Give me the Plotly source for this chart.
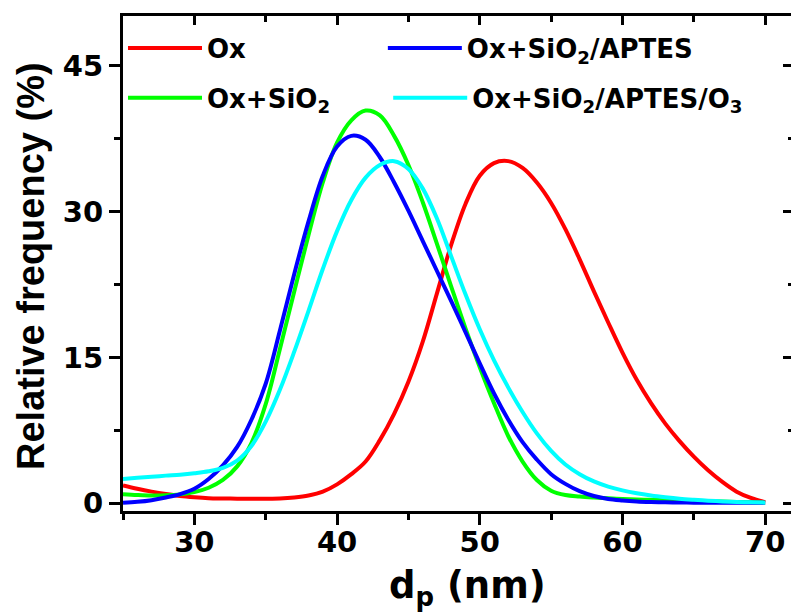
import plotly.graph_objects as go

dp_nm = list(range(25, 71))

ox = [1.85, 1.5, 1.2, 0.95, 0.75, 0.62, 0.53, 0.5, 0.48, 0.48,
      0.48, 0.5, 0.6, 0.8, 1.2, 1.95, 3.0, 4.3, 6.5, 9.2,
      12.5, 16.6, 21.6, 26.6, 30.8, 33.7, 35.0, 35.2, 34.5, 33.0,
      30.9, 28.2, 25.1, 21.8, 18.6, 15.5, 12.7, 10.3, 8.2, 6.4,
      4.8, 3.4, 2.2, 1.2, 0.55, 0.12]

ox_sio2 = [0.93, 0.85, 0.8, 0.82, 0.92, 1.15, 1.6, 2.4, 3.8, 6.2,
           10.2, 15.9, 21.8, 27.6, 33.0, 37.1, 39.4, 40.4, 39.9, 37.8,
           34.8, 31.0, 26.7, 22.3, 18.0, 14.0, 10.3, 6.9, 4.3, 2.4,
           1.3, 0.85, 0.7, 0.6, 0.52, 0.45, 0.4, 0.36, 0.32, 0.28,
           0.25, 0.22, 0.18, 0.14, 0.1, 0.07]

ox_sio2_aptes = [0.06, 0.15, 0.32, 0.6, 0.95, 1.5, 2.5, 3.9, 5.8, 8.6,
                 12.3, 17.8, 23.6, 29.0, 33.7, 36.7, 37.8, 37.4, 35.6, 33.0,
                 30.1, 27.0, 23.9, 20.8, 17.6, 14.4, 11.3, 8.6, 6.3, 4.5,
                 3.0, 2.0, 1.25, 0.75, 0.45, 0.3, 0.2, 0.14, 0.1, 0.08,
                 0.07, 0.06, 0.05, 0.05, 0.05, 0.05]

ox_sio2_aptes_o3 = [2.5, 2.62, 2.73, 2.85, 2.95, 3.1, 3.3, 3.65, 4.4, 5.9,
                    8.4, 11.7, 15.6, 19.8, 24.1, 28.0, 31.2, 33.5, 34.8, 35.2,
                    34.4, 32.4, 29.3, 25.4, 21.5, 17.9, 14.7, 11.9, 9.4, 7.2,
                    5.4, 4.0, 3.0, 2.25, 1.72, 1.33, 1.03, 0.8, 0.62, 0.47,
                    0.36, 0.27, 0.2, 0.14, 0.1, 0.07]

series = [
    ("Ox", ox, "#FF0000", "legend", "x", "y"),
    ("Ox+SiO<sub>2</sub>", ox_sio2, "#00FF00", "legend3", "x", "y"),
    ("Ox+SiO<sub>2</sub>/APTES", ox_sio2_aptes, "#0000FF", "legend2", "x", "y"),
    ("Ox+SiO<sub>2</sub>/APTES/O<sub>3</sub>", ox_sio2_aptes_o3, "#00FFFF", "legend4", "x2", "y2"),
]

x_ticks = [30, 40, 50, 60, 70]
y_ticks = [0, 15, 30, 45]

FONT = "DejaVu Sans"
fig = go.Figure()
for name, vals, color, lg, xa, ya in series:
    fig.add_trace(go.Scatter(
        x=dp_nm, y=vals, name=name, mode="lines",
        line=dict(color=color, width=4, shape="spline", smoothing=1.0),
        legend=lg, xaxis=xa, yaxis=ya, showlegend=True,
    ))

xr = [25, 71.81]
yr = [-0.79, 50.13]
axis_common = dict(showgrid=False, zeroline=False, linecolor="black", linewidth=3,
                   tickcolor="black", tickwidth=3)

legend_font = dict(family=FONT, size=26, weight="bold")


def leg(x, y):
    return dict(orientation="v", x=x, y=y, xanchor="left", yanchor="top",
                bgcolor="rgba(0,0,0,0)", itemwidth=74, font=legend_font)


fig.update_layout(
    width=791, height=615,
    margin=dict(l=123, r=0, t=16, b=104),
    paper_bgcolor="white", plot_bgcolor="white",
    font=dict(family=FONT, color="black"),
    showlegend=True,
    xaxis=dict(range=xr, showline=True, ticks="outside", ticklen=11,
               tickvals=x_ticks, ticktext=[str(v) for v in x_ticks],
               tickfont=dict(family=FONT, size=29, weight="bold"),
               ticklabelstandoff=-8,
               minor=dict(ticks="outside", ticklen=6, tickwidth=3, tickcolor="black", dtick=5, tick0=0),
               **axis_common),
    xaxis2=dict(range=xr, overlaying="x", anchor="y2", side="top", showline=True, ticks="inside",
                ticklen=9, dtick=10, tick0=0, showticklabels=False,
                minor=dict(ticks="inside", ticklen=6, tickwidth=3, tickcolor="black", dtick=5, tick0=0),
                **axis_common),
    yaxis=dict(range=yr, showline=True, ticks="outside", ticklen=11,
               tickvals=y_ticks, ticktext=[str(v) for v in y_ticks],
               tickfont=dict(family=FONT, size=29, weight="bold"),
               minor=dict(ticks="outside", ticklen=6, tickwidth=3, tickcolor="black", dtick=7.5, tick0=0),
               **axis_common),
    yaxis2=dict(range=yr, overlaying="y", anchor="x2", side="right", showline=False, ticks="inside",
                ticklen=8, dtick=15, tick0=0, showticklabels=False,
                minor=dict(ticks="inside", ticklen=3, tickwidth=3, tickcolor="black", dtick=7.5, tick0=0),
                **axis_common),
    legend=leg(0.0, 0.9825),
    legend2=leg(0.389, 0.9825),
    legend3=leg(0.0, 0.882),
    legend4=leg(0.397, 0.882),
    annotations=[
        dict(text="d<sub>p</sub> (nm)", xref="paper", yref="paper", x=0.515, y=-0.156,
             xanchor="center", yanchor="middle", showarrow=False,
             font=dict(family=FONT, size=37, weight="bold")),
        dict(text="Relative frequency (%)", xref="paper", yref="paper", x=-0.1377, y=0.495,
             xanchor="center", yanchor="middle", showarrow=False, textangle=-90,
             font=dict(family="Liberation Sans", size=38, weight="bold")),
    ],
)

fig.write_html("out.html")
